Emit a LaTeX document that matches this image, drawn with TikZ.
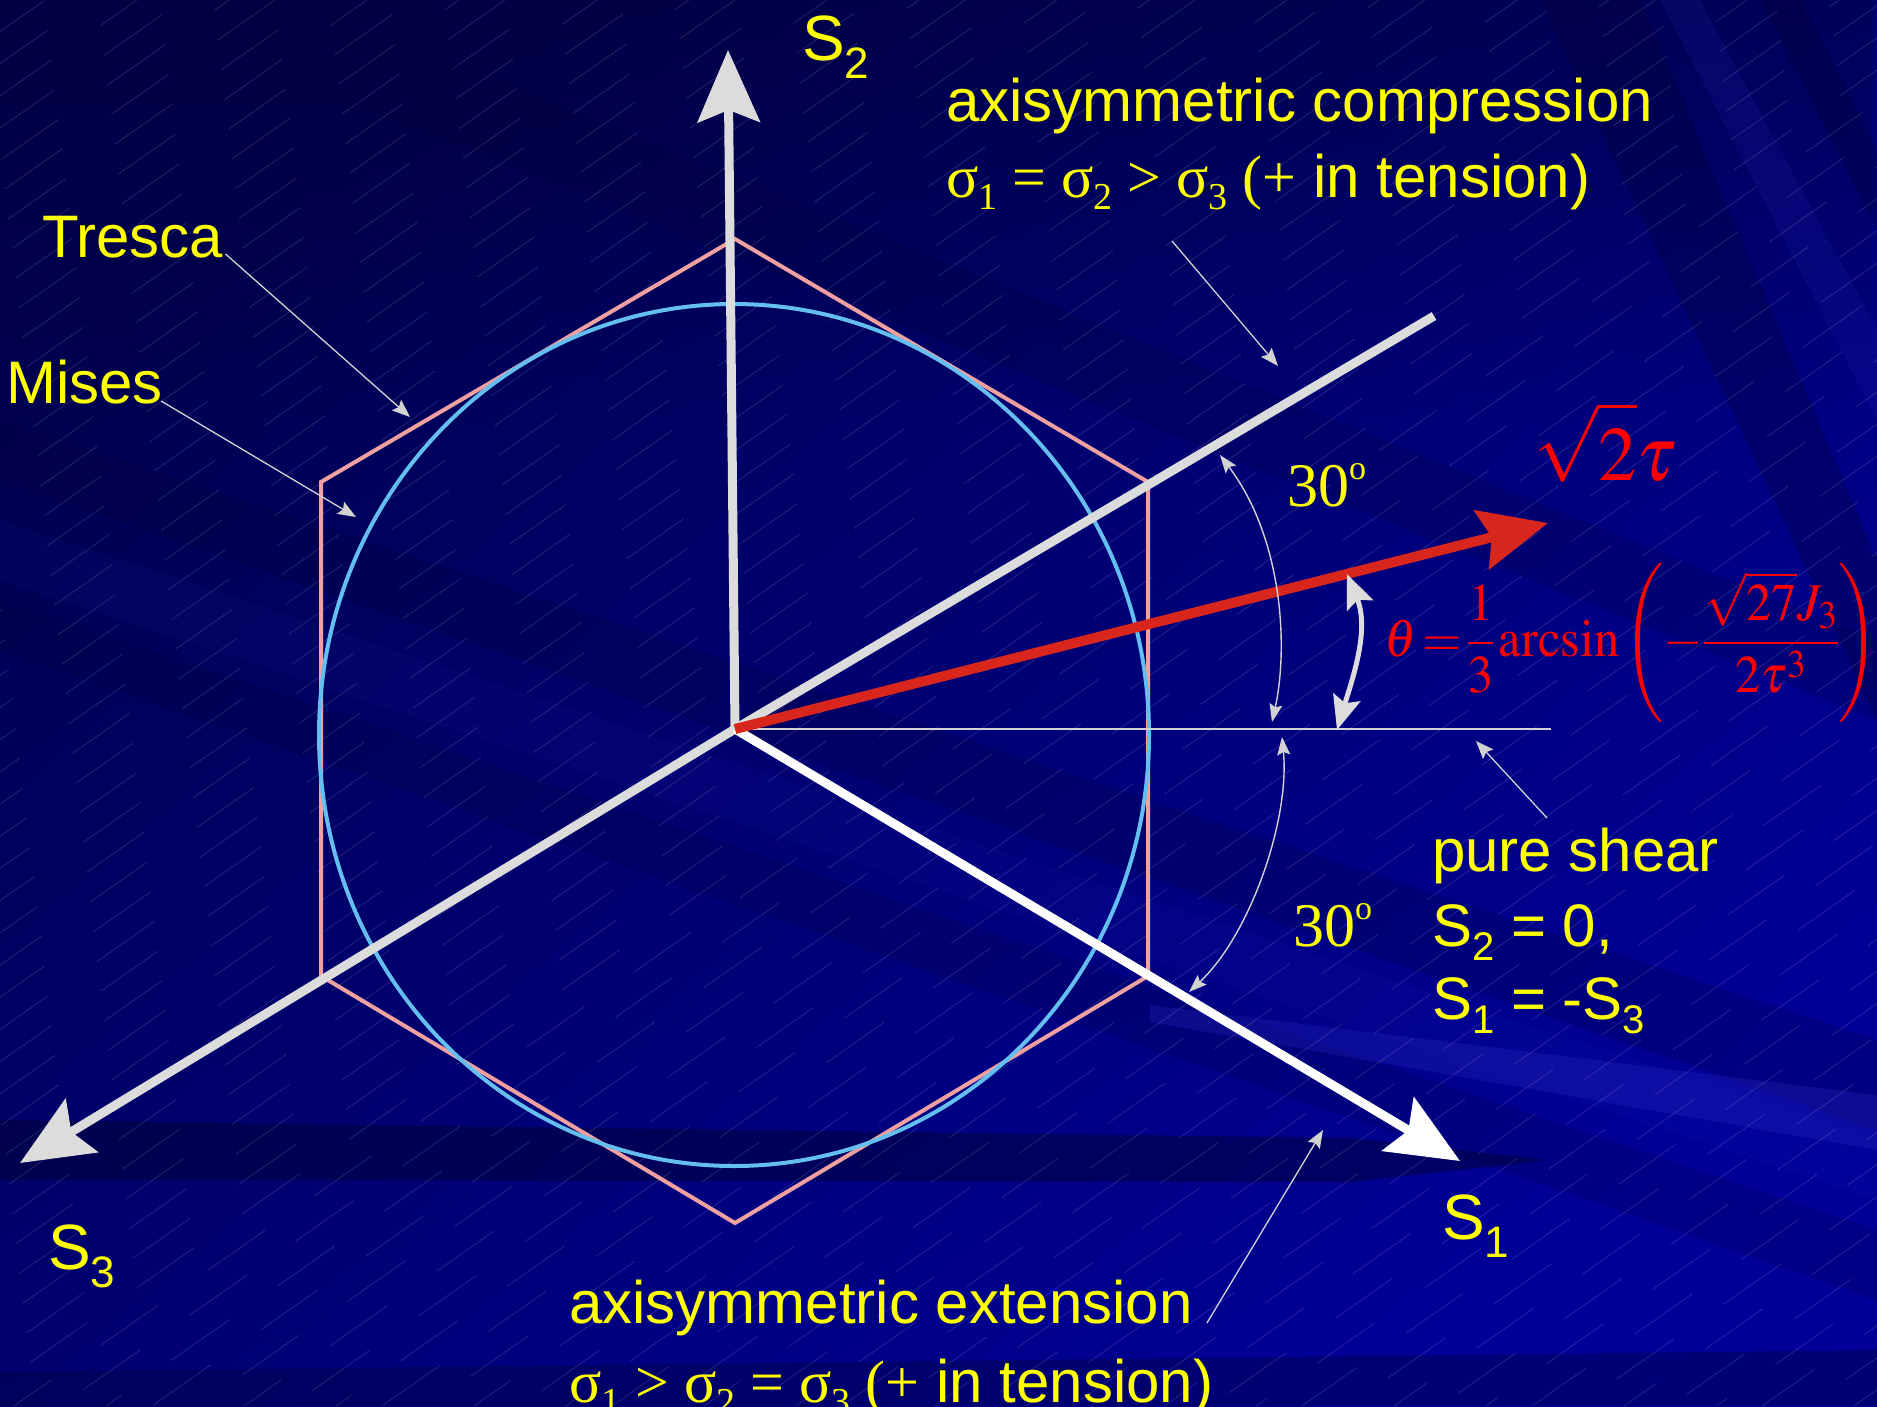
\documentclass[tikz,border=0pt]{standalone}
\usepackage{mathptmx}
\usepackage[no-math]{fontspec}
\setmainfont{Liberation Sans}
\newfontfamily\tms{Liberation Serif}
\usetikzlibrary{arrows.meta,fadings}
\definecolor{bgA}{HTML}{000050}
\definecolor{bgB}{HTML}{000098}
\definecolor{bgMid}{HTML}{000078}
\definecolor{bgDark}{HTML}{000038}
\definecolor{bgLight}{HTML}{2A2AC0}
\definecolor{axgray}{HTML}{DCDCDC}
\definecolor{tred}{HTML}{D8261C}
\definecolor{trescapink}{HTML}{F0A0A0}
\definecolor{misesblue}{HTML}{64BEF0}
\definecolor{lbl}{HTML}{FFFF00}
\definecolor{eqred}{HTML}{FF0000}
\definecolor{leadgray}{HTML}{D2D2D2}
\newcommand\mysub[3]{\raisebox{#2}{\fontsize{#1}{#1}\selectfont #3}}
\newcommand\degsup{\raisebox{0.42em}{\fontsize{34}{34}\selectfont o}}
\tikzset{
  lab/.style={text=lbl, inner sep=0pt, anchor=base west, font=\fontsize{60}{72}\selectfont},
  axislab/.style={text=lbl, inner sep=0pt, anchor=base west, font=\fontsize{64}{72}\selectfont},
  deglab/.style={text=lbl, inner sep=0pt, anchor=base west, font=\fontsize{62}{72}\selectfont\tms},
  axisline/.style={line width=9pt, draw=axgray, -{Stealth[length=72pt,width=62pt,inset=12pt]}},
  leader/.style={draw=leadgray, line width=1.3pt, -{Stealth[length=18pt,width=14pt,inset=3pt]}},
  arcthin/.style={draw=leadgray, line width=1.4pt, {Stealth[length=18pt,width=13pt,inset=3pt]}-{Stealth[length=18pt,width=13pt,inset=3pt]}},
  arcthick/.style={draw=axgray, line width=5pt, {Stealth[length=34pt,width=28pt,inset=6pt]}-{Stealth[length=34pt,width=28pt,inset=6pt]}},
  hexline/.style={draw=trescapink, line width=4pt, line join=miter},
  misesline/.style={draw=misesblue, line width=4pt},
}
\begin{document}
\begin{tikzpicture}[x=1pt,y=-1pt]
\useasboundingbox (0,0) rectangle (1877,1406);
% ---------- background ----------
\begin{scope}
\clip (0,0) rectangle (1877,1406);
\shade[top color=bgA, middle color=bgMid, bottom color=bgB, shading angle=40] (0,0) rectangle (1877,1406);
\fill[bgDark, opacity=0.45, path fading=south] (0,0) rectangle (1877,420);
% soft streaks sloping down-right
\fill[bgDark, opacity=0.22] (0,420) -- (1877,1040) -- (1877,1130) -- (0,480) -- cycle;
\fill[bgDark, opacity=0.18] (0,600) -- (1877,1230) -- (1877,1300) -- (0,650) -- cycle;
\fill[bgLight, opacity=0.08] (0,520) -- (1877,1140) -- (1877,1200) -- (0,580) -- cycle;
\fill[bgDark, opacity=0.2] (300,0) -- (1877,640) -- (1877,720) -- (100,0) -- cycle;
\fill[bgDark, opacity=0.5] (0,1120) -- (1350,1138) -- (1550,1160) -- (1350,1182) -- (0,1180) -- cycle;
\fill[bgDark, opacity=0.35] (0,1372) -- (1877,1350) -- (1877,1406) -- (0,1406) -- cycle;
\fill[bgLight, opacity=0.3] (1150,1005) -- (1877,1095) -- (1877,1150) -- (1150,1022) -- cycle;
% steep streaks top right
\fill[bgDark, opacity=0.3] (1540,0) -- (1640,0) -- (1877,560) -- (1877,720) -- cycle;
\fill[bgLight, opacity=0.15] (1660,0) -- (1700,0) -- (1877,330) -- (1877,420) -- cycle;
\fill[bgDark, opacity=0.3] (1760,0) -- (1800,0) -- (1877,150) -- (1877,230) -- cycle;
\foreach \i [evaluate=\i as \ph using {mod(abs(\i)*1.7,130)}] in {-2010,-1964,...,1877}
  \draw[white, opacity=0.14, line width=0.8pt, dash pattern=on 70pt off 60pt, dash phase=\ph pt] (\i,1406) -- ++(2009,-1406);
\end{scope}
% ---------- geometry ----------
\coordinate (O) at (735,729);
\coordinate (h1) at (735,239);
\coordinate (h2) at (1148,482);
\coordinate (h3) at (1148,976);
\coordinate (h4) at (735,1223);
\coordinate (h5) at (321,976);
\coordinate (h6) at (321,482);
\coordinate (t1) at (1460,1161);
\coordinate (t2) at (728,50);
\coordinate (t3) at (20,1163);
\coordinate (tc) at (1434,316);
\coordinate (th) at (1551,729);
\coordinate (tr) at (1548,523);
\draw[hexline] (h1) -- (h2) -- (h3) -- (h4) -- (h5) -- (h6) -- cycle;
\draw[misesline] (734,735) ellipse [x radius=415pt, y radius=431pt];
\draw[axisline] (O) -- (t2);
\draw[axisline] (O) -- (t3);
\draw[line width=9pt, draw=axgray] (O) -- (tc);
\draw[axisline, draw=white] (O) -- (t1);
\draw[leadgray, line width=1.4pt] (O) -- (th);
\draw[line width=10pt, draw=tred, -{Stealth[length=68pt,width=60pt,inset=10pt]}] (O) -- (tr);
% ---------- arcs ----------
\coordinate (u1) at (1272,722);
\coordinate (u2) at (1220,455);
\coordinate (l1) at (1282,737);
\coordinate (l2) at (1189,992);
\coordinate (q1) at (1337,730);
\coordinate (q2) at (1347,574);
\draw[arcthin] (u1) .. controls (1288,650) and (1284,540) .. (u2);
\draw[arcthin] (l1) .. controls (1290,820) and (1250,935) .. (l2);
\draw[arcthick] (q1) .. controls (1352,680) and (1370,630) .. (q2);
% ---------- labels ----------
\node[axislab] (s2) at (802,60) {S\mysub{44}{-18pt}{2}};
\node[axislab] (s1) at (1442,1239) {S\mysub{44}{-18pt}{1}};
\node[axislab] (s3) at (48,1269) {S\mysub{44}{-18pt}{3}};
\node[lab] (compr) at (946,121) {axisymmetric compression};
\node[lab] (comprb) at (946,197) {{\tms σ\mysub{38}{-12pt}{1} = σ\mysub{38}{-12pt}{2} > σ\mysub{38}{-12pt}{3} (+} in tension)};
\node[lab] (tresca) at (42,257) {Tresca};
\node[lab] (mises) at (6,403) {Mises};
\node[deglab] (deg1) at (1287,506) {30\degsup};
\node[deglab] (deg2) at (1293,946) {30\degsup};
\node[text=eqred, anchor=base west, inner sep=0pt] (root) at (1534,480) {\fontsize{77}{90}\selectfont$\sqrt{\rule{0pt}{0.85em}2}\tau$};
\node[text=eqred, anchor=base west, inner sep=0pt] (theta) at (1384,656) {\scalebox{0.955}[1]{\fontsize{53}{60}\selectfont\thickmuskip=2mu\medmuskip=2mu\thinmuskip=1.5mu$\displaystyle\theta=\frac{1}{3}\arcsin\left(-\frac{\sqrt{27}J_3}{2\tau^3}\right)$}};
\node[lab] (pshear) at (1432,871) {pure shear};
\node[lab] (ps2) at (1432,946) {S\mysub{40}{-14pt}{2} = 0,};
\node[lab] (ps3) at (1432,1019) {S\mysub{40}{-14pt}{1} = -S\mysub{40}{-14pt}{3}};
\node[lab] (ext) at (569,1323) {axisymmetric extension};
\node[lab] (extb) at (569,1402) {{\tms σ\mysub{38}{-12pt}{1} > σ\mysub{38}{-12pt}{2} = σ\mysub{38}{-12pt}{3} (+} in tension)};
% ---------- leaders ----------
\coordinate (trescaEnd) at (410,417);
\coordinate (misesEnd) at (356,517);
\coordinate (c0) at (1172,241);
\coordinate (c1) at (1278,366);
\coordinate (p0) at (1547,818);
\coordinate (p1) at (1476,741);
\coordinate (e1) at (1323,1130);
\draw[leader] ([xshift=2pt,yshift=3pt]tresca.base east) -- (trescaEnd);
\draw[leader] ([xshift=-2pt,yshift=2pt]mises.base east) -- (misesEnd);
\draw[leader] (c0) -- (c1);
\draw[leader] (p0) -- (p1);
\draw[leader] ([xshift=14pt]ext.base east) -- (e1);
\end{tikzpicture}
\end{document}
